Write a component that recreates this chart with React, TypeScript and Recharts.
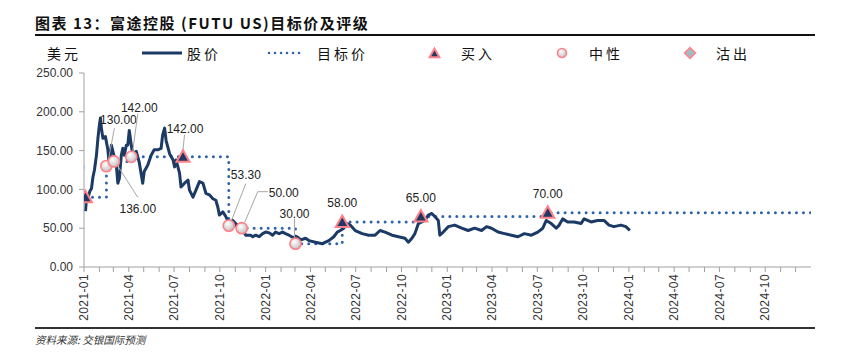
import { ComposedChart, Line, Scatter, XAxis, YAxis } from "recharts"

const FONT = "'Liberation Sans', Arial, sans-serif"
const CJK = "'Noto Sans CJK SC', 'Noto Sans', sans-serif"

const NAVY = "#1B3A66"
const DOT_BLUE = "#2E64A9"
const PINK = "#FF8088"

// 股价 (roughly weekly)
const priceDates = [
  "2021-01-04", "2021-01-06", "2021-01-09", "2021-01-13", "2021-01-16", "2021-01-19", "2021-01-22", "2021-01-26",
  "2021-01-29", "2021-02-01", "2021-02-03", "2021-02-05", "2021-02-08", "2021-02-13", "2021-02-18", "2021-02-21",
  "2021-02-25", "2021-03-02", "2021-03-07", "2021-03-10", "2021-03-13", "2021-03-17", "2021-03-20", "2021-03-23",
  "2021-03-27", "2021-03-30", "2021-04-02", "2021-04-06", "2021-04-09", "2021-04-16", "2021-04-22", "2021-04-29",
  "2021-05-02", "2021-05-09", "2021-05-16", "2021-05-22", "2021-05-29", "2021-06-05", "2021-06-08", "2021-06-12",
  "2021-06-15", "2021-06-22", "2021-06-29", "2021-07-02", "2021-07-05", "2021-07-12", "2021-07-15", "2021-07-22",
  "2021-07-29", "2021-08-01", "2021-08-08", "2021-08-14", "2021-08-21", "2021-08-28", "2021-09-03", "2021-09-10",
  "2021-09-17", "2021-09-23", "2021-09-27", "2021-09-30", "2021-10-07", "2021-10-13", "2021-10-20", "2021-10-27",
  "2021-11-02", "2021-11-09", "2021-11-16", "2021-11-22", "2021-12-02", "2021-12-06", "2021-12-12", "2021-12-19",
  "2021-12-26", "2022-01-01", "2022-01-08", "2022-01-15", "2022-01-21", "2022-01-28", "2022-02-04", "2022-02-10",
  "2022-02-17", "2022-02-25", "2022-03-05", "2022-03-13", "2022-03-22", "2022-03-29", "2022-04-11", "2022-04-25",
  "2022-05-08", "2022-05-18", "2022-05-25", "2022-05-31", "2022-06-07", "2022-06-14", "2022-06-20", "2022-06-30",
  "2022-07-14", "2022-07-27", "2022-08-09", "2022-08-19", "2022-08-29", "2022-09-12", "2022-09-25", "2022-10-08",
  "2022-10-15", "2022-10-22", "2022-10-28", "2022-11-04", "2022-11-11", "2022-11-17", "2022-11-24", "2022-12-01",
  "2022-12-07", "2022-12-14", "2022-12-17", "2022-12-24", "2023-01-03", "2023-01-16", "2023-01-30", "2023-02-12",
  "2023-02-25", "2023-03-11", "2023-03-21", "2023-03-31", "2023-04-13", "2023-04-26", "2023-05-10", "2023-05-23",
  "2023-06-05", "2023-06-19", "2023-07-02", "2023-07-12", "2023-07-19", "2023-07-29", "2023-08-08", "2023-08-14",
  "2023-08-21", "2023-08-31", "2023-09-13", "2023-09-27", "2023-10-03", "2023-10-17", "2023-10-30", "2023-11-12",
  "2023-11-22", "2023-12-02", "2023-12-16", "2023-12-26", "2024-01-03",
]
const priceValues = [
  72, 88, 89, 98, 101, 116, 125, 144,
  166, 183, 192, 179, 166, 168, 151, 131,
  157, 144, 131, 108, 114, 144, 153, 144,
  157, 157, 176, 157, 144, 149, 135, 108,
  123, 131, 144, 151, 151, 153, 170, 179,
  163, 146, 138, 129, 138, 121, 103, 108,
  112, 99, 90, 99, 110, 108, 95, 93,
  88, 86, 77, 67, 71, 65, 56, 60,
  56, 52, 47, 41, 41, 39, 41, 39,
  43, 45, 44, 41, 45, 43, 45, 43,
  41, 38, 39, 35, 37, 34, 32, 30,
  34, 39, 45, 47, 50, 56, 54, 47,
  43, 41, 41, 47, 45, 41, 39, 37,
  32, 37, 43, 56, 58, 60, 67, 69,
  65, 60, 41, 45, 52, 54, 50, 47,
  50, 47, 52, 50, 45, 43, 41, 39,
  43, 41, 45, 50, 60, 56, 50, 54,
  62, 58, 58, 56, 62, 58, 60, 60,
  54, 52, 54, 52, 47,
]

// 目标价 (step line)
const targetDates = [
  "2021-01-04", "2021-02-15", "2021-03-02", "2021-04-06", "2021-07-19", "2021-10-19",
  "2021-11-14", "2022-03-02", "2022-06-04", "2022-11-09", "2023-07-22", "2024-12-31",
]
const targetValues = [90, 130, 136, 142, 142, 53.3, 50, 30, 58, 65, 70, 70]

// 评级
const ratingDates = [
  "2021-01-04", "2021-02-15", "2021-03-02", "2021-04-06", "2021-07-19", "2021-10-19",
  "2021-11-14", "2022-03-02", "2022-06-04", "2022-11-09", "2023-07-22",
]
const ratingTargets = [90, 130, 136, 142, 142, 53.3, 50, 30, 58, 65, 70]
const ratingTypes = ["买入", "中性", "中性", "中性", "买入", "中性", "中性", "中性", "买入", "买入", "买入"]

const xTickLabels = [
  "2021-01", "2021-04", "2021-07", "2021-10", "2022-01", "2022-04", "2022-07", "2022-10",
  "2023-01", "2023-04", "2023-07", "2023-10", "2024-01", "2024-04", "2024-07", "2024-10",
]
const yTicks = [0, 50, 100, 150, 200, 250]

// label placement next to each rating marker (offsets from the marker, px)
const labelLayout: { tx: number; ty: number; lead?: number[][] }[] = [
  { tx: -16, ty: -29, lead: [[-13, -14], [-4, -4]] },
  { tx: 12, ty: -46, lead: [[8, -38], [2, -6]] },
  { tx: 24, ty: 48, lead: [[3, 3], [24, 36]] },
  { tx: 8, ty: -49, lead: [[6.5, -43], [1.5, -6]] },
  { tx: 2, ty: -28, lead: [[1.5, -22], [0, -7]] },
  { tx: 17, ty: -51, lead: [[17, -42], [3, -6]] },
  { tx: 42, ty: -35, lead: [[26, -36.5], [16, -36.5], [3, -6]] },
  { tx: -1, ty: -30, lead: [[-1, -25], [-1, -6]] },
  { tx: 0, ty: -19 },
  { tx: 0, ty: -18.5 },
  { tx: 0, ty: -18.5 },
]

const ts = (d: string) => new Date(d + "T00:00:00Z").getTime()

const priceData = priceDates.map((d, i) => ({ t: ts(d), v: priceValues[i] }))
const targetData = targetDates.map((d, i) => ({ t: ts(d), v: targetValues[i] }))
const ratingData = ratingDates.map((d, i) => ({ t: ts(d), v: ratingTargets[i], kind: ratingTypes[i], i }))

const X_START = Date.UTC(2021, 0, 1)
const X_END = Date.UTC(2025, 0, 1)
const monthTicks: number[] = []
for (let m = 0; m < 48; m++) monthTicks.push(Date.UTC(2021, m, 1))
const tickLabelMap = new Map<number, string>()
xTickLabels.forEach((s) => tickLabelMap.set(ts(s + "-01"), s))

function MonthTick(props: any) {
  const { x, y, payload } = props
  const label = tickLabelMap.get(payload.value)
  if (!label) return <g />
  return (
    <text
      x={x}
      y={y}
      transform={`rotate(-90 ${x} ${y})`}
      textAnchor="end"
      dy="0.35em"
      fontSize={12}
      fill="#333"
      fontFamily={FONT}
      style={{ letterSpacing: 0.4 }}
    >
      {label}
    </text>
  )
}

function Triangle({ cx, cy, s = 1 }: { cx: number; cy: number; s?: number }) {
  const p = `${cx},${cy - 6.5 * s} ${cx + 6.5 * s},${cy + 5 * s} ${cx - 6.5 * s},${cy + 5 * s}`
  return <polygon points={p} fill="#1F3864" stroke={PINK} strokeWidth={2} strokeLinejoin="miter" />
}

function Ball({ cx, cy, r, id }: { cx: number; cy: number; r: number; id: string }) {
  return (
    <g>
      <defs>
        <radialGradient id={id} cx="40%" cy="35%" r="70%">
          <stop offset="0%" stopColor="#ffffff" />
          <stop offset="100%" stopColor="#bcbcbc" />
        </radialGradient>
      </defs>
      <circle cx={cx} cy={cy} r={r} fill={`url(#${id})`} stroke={PINK} strokeWidth={1.6} />
    </g>
  )
}

function RatingMark(props: any) {
  const { cx, cy, payload } = props
  if (cx == null || cy == null) return <g />
  const lay = labelLayout[payload.i]
  return (
    <g>
      {lay.lead && (
        <polyline
          points={lay.lead.map(([a, b]) => `${cx + a},${cy + b}`).join(" ")}
          fill="none"
          stroke="#A6A6A6"
          strokeWidth={1}
        />
      )}
      {payload.kind === "买入" ? (
        <Triangle cx={cx} cy={cy} />
      ) : (
        <Ball cx={cx} cy={cy} r={5.6} id={`rg${payload.i}`} />
      )}
      <text
        x={cx + lay.tx}
        y={cy + lay.ty}
        textAnchor="middle"
        dominantBaseline="central"
        fontSize={12}
        fill="#222"
        fontFamily={FONT}
      >
        {payload.v.toFixed(2)}
      </text>
    </g>
  )
}

function Overlay() {
  const legText = { fontSize: 14, fontFamily: CJK, fill: "#111", letterSpacing: 3 } as const
  return (
    <svg width={841} height={352} style={{ position: "absolute", left: 0, top: 0, pointerEvents: "none" }}>
      <text x={35} y={22} dominantBaseline="central" fontSize={15} fontWeight={700} fontFamily={CJK} fill="#111" style={{ letterSpacing: 1.5 }}>
        图表 13：富途控股 (FUTU US)目标价及评级
      </text>
      <line x1={35} y1={35} x2={815} y2={35} stroke="#111" strokeWidth={2} />

      <text x={47} y={53} dominantBaseline="central" style={legText}>美元</text>
      <line x1={142} y1={53} x2={182} y2={53} stroke={NAVY} strokeWidth={3} />
      <text x={187} y={53} dominantBaseline="central" style={legText}>股价</text>
      <line x1={269} y1={53} x2={300} y2={53} stroke={DOT_BLUE} strokeWidth={2.6} strokeDasharray="0.01 6" strokeLinecap="round" />
      <text x={317} y={53} dominantBaseline="central" style={legText}>目标价</text>
      <Triangle cx={434.5} cy={53.5} s={0.75} />
      <text x={461} y={53} dominantBaseline="central" style={legText}>买入</text>
      <Ball cx={562} cy={53} r={4.5} id="legBall" />
      <text x={589} y={53} dominantBaseline="central" style={legText}>中性</text>
      <polygon points="690,47.5 695.5,53 690,58.5 684.5,53" fill="#A3BCC2" stroke={PINK} strokeWidth={1.5} />
      <text x={716} y={53} dominantBaseline="central" style={legText}>沽出</text>

      <line x1={35} y1={328} x2={815} y2={328} stroke="#333" strokeWidth={2} />
      <text x={35} y={339} dominantBaseline="central" fontSize={10.5} fontStyle="italic" fontFamily={CJK} fill="#333">
        资料来源: 交银国际预测
      </text>
    </svg>
  )
}

export default function App() {
  return (
    <div style={{ position: "relative", width: 841, height: 352, background: "#fff" }}>
      <style>{"body{margin:0}"}</style>
      <div style={{ position: "absolute", left: 0, top: 0 }}>
        <ComposedChart width={841} height={352} margin={{ top: 73, right: 30, bottom: 25, left: 24 }}>
          <XAxis
            dataKey="t"
            type="number"
            domain={[X_START, X_END]}
            ticks={monthTicks}
            interval={0}
            allowDataOverflow
            tick={(p: any) => <MonthTick {...p} />}
            tickSize={5}
            tickMargin={2}
            height={60}
            stroke="#A0A0A0"
          />
          <YAxis
            type="number"
            domain={[0, 250]}
            ticks={yTicks}
            width={60}
            tickSize={5}
            tickMargin={6}
            tickFormatter={(v: number) => v.toFixed(2)}
            tick={{ fill: "#333", fontSize: 12, fontFamily: FONT }}
            stroke="#A0A0A0"
          />
          <Line
            data={targetData}
            dataKey="v"
            type="stepAfter"
            stroke={DOT_BLUE}
            strokeWidth={3}
            strokeDasharray="0.01 7"
            strokeLinecap="round"
            dot={false}
            activeDot={false}
            isAnimationActive={false}
          />
          <Line
            data={priceData}
            dataKey="v"
            type="linear"
            stroke={NAVY}
            strokeWidth={3}
            strokeLinejoin="round"
            dot={false}
            activeDot={false}
            isAnimationActive={false}
          />
          <Scatter data={ratingData} dataKey="v" shape={RatingMark} isAnimationActive={false} />
        </ComposedChart>
      </div>
      <Overlay />
    </div>
  )
}
